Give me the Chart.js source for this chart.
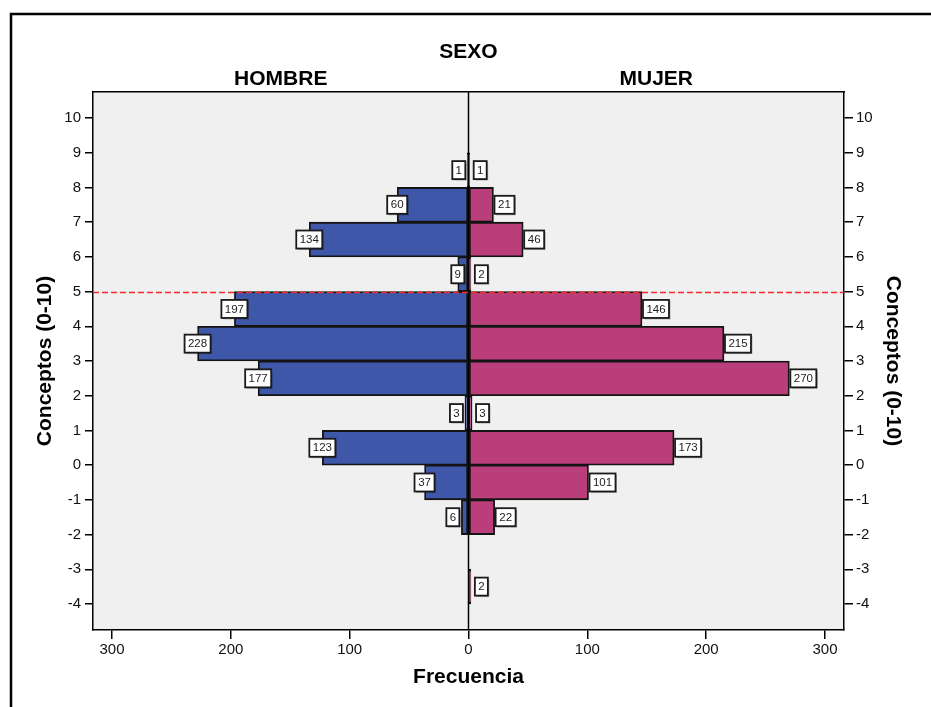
<!DOCTYPE html>
<html>
<head>
<meta charset="utf-8">
<title>Conceptos (0-10) por sexo</title>
<script src="https://cdn.jsdelivr.net/npm/chart.js@4.4.1/dist/chart.umd.min.js"></script>
<style>
  body { margin: 0; background: #fff; }
  #wrap { width: 931px; height: 707px; }
</style>
</head>
<body>
<div id="wrap"><canvas id="pyramid" width="931" height="707"></canvas></div>
<script>
// lower edge of each 1-point interval, top to bottom
const binStart = [8, 7, 6, 5, 4, 3, 2, 1, 0, -1, -2, -3, -4];
const hombre   = [1, 60, 134, 9, 197, 228, 177, 3, 123, 37, 6, 0, 0];
const mujer    = [1, 21, 46, 2, 146, 215, 270, 3, 173, 101, 22, 0, 2];

const yTicks = [10, 9, 8, 7, 6, 5, 4, 3, 2, 1, 0, -1, -2, -3, -4];
const xTicks = [-300, -200, -100, 0, 100, 200, 300];
const groupLabels = ["HOMBRE", "MUJER"];
const groupTitle = "SEXO";
const yTitle = "Conceptos (0-10)";
const xTitle = "Frecuencia";
const cutValue = 5;

const FONT = '"Liberation Sans", Arial, Helvetica, sans-serif';
const X_MIN = -316, X_MAX = 316;
const Y_MIN = -4.75, Y_MAX = 10.75;

function toPoints(counts, sign) {
    const pts = [];
    counts.forEach((c, i) => {
        if (c > 0) pts.push({ y: binStart[i] + 0.5, x: sign * c });
    });
    return pts;
}

const decor = {
    id: "decor",
    beforeDraw(chart) {
        const { ctx, chartArea: a } = chart;
        ctx.save();
        ctx.fillStyle = "#fff";
        ctx.fillRect(0, 0, chart.width, chart.height);
        ctx.strokeStyle = "#000";
        ctx.lineWidth = 2.5;
        ctx.beginPath();
        ctx.moveTo(11, chart.height);
        ctx.lineTo(11, 14);
        ctx.lineTo(chart.width, 14);
        ctx.stroke();
        ctx.fillStyle = "#f0f0f0";
        ctx.fillRect(a.left, a.top, a.right - a.left, a.bottom - a.top);
        ctx.restore();
    },
    afterDatasetsDraw(chart) {
        const { ctx, chartArea: a } = chart;
        const xs = chart.scales.x, ys = chart.scales.y;
        const zero = xs.getPixelForValue(0);
        ctx.save();

        // zero line
        ctx.strokeStyle = "#000";
        ctx.lineWidth = 1.5;
        ctx.beginPath();
        ctx.moveTo(zero, a.top);
        ctx.lineTo(zero, a.bottom);
        ctx.stroke();

        // reference line
        const cy = Math.round(ys.getPixelForValue(cutValue)) + 0.5;
        ctx.strokeStyle = "#f2262b";
        ctx.lineWidth = 1.3;
        ctx.setLineDash([6, 3]);
        ctx.beginPath();
        ctx.moveTo(a.left, cy);
        ctx.lineTo(a.right, cy);
        ctx.stroke();
        ctx.setLineDash([]);

        // count boxes
        ctx.font = "11.5px " + FONT;
        ctx.textAlign = "center";
        ctx.textBaseline = "middle";
        chart.data.datasets.forEach((ds, di) => {
            const meta = chart.getDatasetMeta(di);
            meta.data.forEach((bar, i) => {
                const v = ds.data[i].x;
                const txt = String(Math.abs(v));
                const w = Math.round(ctx.measureText(txt).width) + 7;
                const h = 18;
                let left;
                if (v < 0) {
                    left = bar.x - w / 2;
                    if (left + w > zero - 4) left = bar.x - 2 - w;
                } else {
                    left = bar.x + (v < 5 ? 4 : 1);
                }
                const top = bar.y - h / 2;
                ctx.fillStyle = "rgba(0,0,0,0.25)";
                ctx.fillRect(left + 1.5, top + 1.5, w, h);
                ctx.fillStyle = "#fff";
                ctx.fillRect(left, top, w, h);
                ctx.strokeStyle = "#1a1a1a";
                ctx.lineWidth = 1.8;
                ctx.strokeRect(left, top, w, h);
                ctx.fillStyle = "#222";
                ctx.fillText(txt, left + w / 2, bar.y + 0.5);
            });
        });
        ctx.restore();
    }
};

const tickFont = { family: FONT, size: 15 };
const titleFont = { family: FONT, size: 21, weight: "bold" };
const axisBorder = { display: true, color: "#000", width: 1.5 };
const setYTicks = (scale) => { scale.ticks = yTicks.map((v) => ({ value: v })); };

new Chart(document.getElementById("pyramid"), {
    type: "bar",
    data: {
        datasets: [
            {
                label: groupLabels[0],
                data: toPoints(hombre, -1),
                backgroundColor: "#3e57a8",
                borderColor: "#141414",
                borderWidth: 1.8,
                borderSkipped: false,
                grouped: false,
                barPercentage: 1,
                categoryPercentage: 1,
            },
            {
                label: groupLabels[1],
                data: toPoints(mujer, 1),
                backgroundColor: "#b93e79",
                borderColor: "#141414",
                borderWidth: 1.8,
                borderSkipped: false,
                grouped: false,
                barPercentage: 1,
                categoryPercentage: 1,
            },
        ],
    },
    options: {
        indexAxis: "y",
        responsive: false,
        animation: false,
        events: [],
        layout: { padding: 0 },
        plugins: {
            legend: { display: false },
            tooltip: { enabled: false },
        },
        scales: {
            x: {
                type: "linear",
                position: "bottom",
                min: X_MIN,
                max: X_MAX,
                afterBuildTicks: (scale) => { scale.ticks = xTicks.map((v) => ({ value: v })); },
                afterFit: (scale) => { scale.height = 77; },
                ticks: {
                    callback: (v) => Math.abs(v),
                    font: tickFont,
                    color: "#111",
                    padding: 2,
                    maxRotation: 0,
                    autoSkip: false,
                },
                grid: { drawOnChartArea: false, drawTicks: true, tickLength: 9, color: "#000", lineWidth: 1.5 },
                border: axisBorder,
                title: { display: true, text: xTitle, font: titleFont, color: "#000", padding: { top: 0, bottom: 17.4 } },
            },
            xTop: {
                type: "linear",
                position: "top",
                min: X_MIN,
                max: X_MAX,
                afterBuildTicks: (scale) => { scale.ticks = [{ value: X_MIN / 2 }, { value: X_MAX / 2 }]; },
                afterFit: (scale) => { scale.height = 92; },
                ticks: {
                    callback: (v) => (v < 0 ? groupLabels[0] : groupLabels[1]),
                    font: titleFont,
                    color: "#000",
                    padding: 0,
                    maxRotation: 0,
                    autoSkip: false,
                },
                grid: { display: false, drawTicks: false },
                border: axisBorder,
                title: { display: true, text: groupTitle, font: titleFont, color: "#000", padding: { top: 39.4, bottom: 0 } },
            },
            y: {
                type: "linear",
                position: "left",
                min: Y_MIN,
                max: Y_MAX,
                offset: false,
                afterBuildTicks: setYTicks,
                afterFit: (scale) => { scale.width = 93; },
                ticks: { font: tickFont, color: "#111", padding: 4, autoSkip: false },
                grid: { offset: false, drawOnChartArea: false, drawTicks: true, tickLength: 8, color: "#000", lineWidth: 1.5 },
                border: axisBorder,
                title: { display: true, text: yTitle, font: titleFont, color: "#000", padding: { top: 32.4, bottom: 0 } },
            },
            yRight: {
                type: "linear",
                position: "right",
                min: Y_MIN,
                max: Y_MAX,
                offset: false,
                afterBuildTicks: setYTicks,
                afterFit: (scale) => { scale.width = 87; },
                ticks: { font: tickFont, color: "#111", padding: 3, autoSkip: false },
                grid: { offset: false, drawOnChartArea: false, drawTicks: true, tickLength: 9, color: "#000", lineWidth: 1.5 },
                border: axisBorder,
                title: { display: true, text: yTitle, font: titleFont, color: "#000", padding: { top: 25.4, bottom: 0 } },
            },
        },
    },
    plugins: [decor],
});
</script>
</body>
</html>
